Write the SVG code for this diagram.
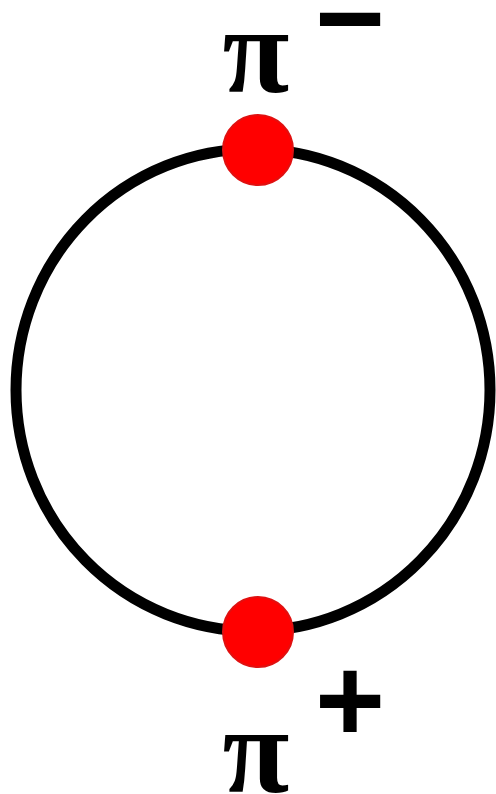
<svg xmlns="http://www.w3.org/2000/svg" width="496" height="794" viewBox="0 0 496 794">
<style>
.lbl{font-weight:bold;fill:#000;text-anchor:middle}
.pi{font-family:"Liberation Serif","Times New Roman",serif;font-size:122px}
.sg{font-family:"Liberation Sans",Arial,sans-serif;font-size:120px}
.dot{fill:#ff0000;stroke:#e01010;stroke-width:2}
</style>
<rect width="496" height="794" fill="#fff"/>
<g id="connectors">
<ellipse cx="253" cy="390" rx="237" ry="241" fill="none" stroke="#000" stroke-width="11"/>
</g>
<g id="pi-minus">
<circle class="dot" cx="258" cy="150" r="35"/>
<text class="lbl pi" x="256" y="92">π</text>
<text class="lbl sg" x="350" y="59">−</text>
</g>
<g id="pi-plus">
<circle class="dot" cx="258" cy="632" r="35"/>
<text class="lbl pi" x="256" y="792">π</text>
<text class="lbl sg" x="350" y="742">+</text>
</g>
</svg>
